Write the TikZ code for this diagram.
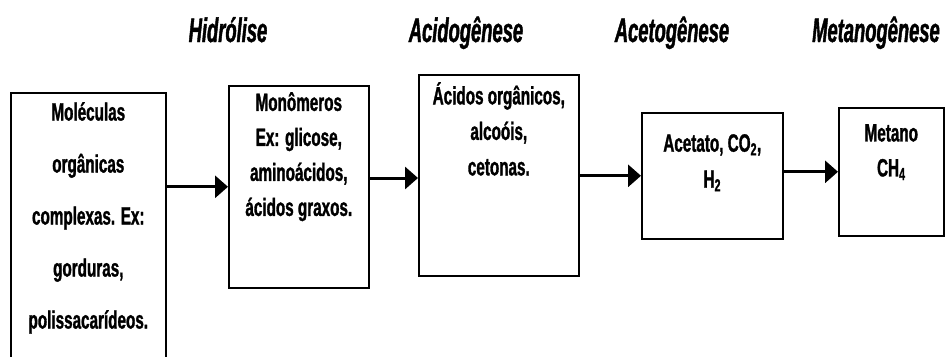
\documentclass[tikz,border=0pt]{standalone}
\usepackage{fontspec}
\setmainfont{Liberation Sans}[FakeStretch=0.61,BoldFeatures={FakeBold=1.2}]
\newfontfamily\etapafont{Liberation Sans}[FakeStretch=0.54,BoldItalicFeatures={FakeBold=1.2}]
\usetikzlibrary{arrows.meta,positioning}

\tikzset{
  caixa/.style={draw,line width=1.6pt,inner sep=0pt,anchor=north west},
  texto/.style={font=\bfseries\fontsize{25}{35}\selectfont,align=center,anchor=north,inner sep=0pt},
  etapa/.style={font=\etapafont\bfseries\itshape\fontsize{34}{38}\selectfont,inner sep=0pt,anchor=base},
  seta/.style={line width=3pt,-{Triangle[length=13pt,width=22pt]}},
}

\begin{document}
\begin{tikzpicture}[x=1pt,y=-1pt]
\clip (0,0) rectangle (947,356);

% etapas
\node[etapa] (hidrolise) at (228,42) {Hidrólise};
\node[etapa] (acidogenese) at (466,42) {Acidogênese};
\node[etapa] (acetogenese) at (672,42) {Acetogênese};
\node[etapa] (metanogenese) at (876,42) {Metanogênese};

% caixas
\node[caixa,minimum width=155pt,minimum height=272pt] (moleculas) at (10,92) {};
\node[caixa,minimum width=140pt,minimum height=202pt] (monomeros) at (228,85) {};
\node[caixa,minimum width=160pt,minimum height=201pt] (acidos) at (418,74) {};
\node[caixa,minimum width=141pt,minimum height=126pt] (acetato) at (641,112) {};
\node[caixa,minimum width=105pt,minimum height=128pt] (metano) at (838,107) {};

\node[texto,font=\bfseries\fontsize{25}{52}\selectfont,below=10pt of moleculas.north,anchor=north]
  (tmoleculas) {Moléculas\\orgânicas\\complexas. Ex:\\gorduras,\\polissacarídeos.};
\node[texto,below=7pt of monomeros.north,anchor=north]
  (tmonomeros) {Monômeros\\Ex: glicose,\\aminoácidos,\\ácidos graxos.};
\node[texto,font=\bfseries\fontsize{25}{35.5}\selectfont,below=8pt of acidos.north,anchor=north]
  (tacidos) {Ácidos orgânicos,\\alcoóis,\\cetonas.};
\node[texto,font=\bfseries\fontsize{25}{36}\selectfont,below=22pt of acetato.north,anchor=north]
  (tacetato) {Acetato, CO\textsubscript{2},\\H\textsubscript{2}};
\node[texto,below=17pt of metano.north,anchor=north]
  (tmetano) {Metano\\CH\textsubscript{4}};

% setas
\draw[seta] (moleculas.east |- monomeros.west) -- (monomeros.west);
\draw[seta] (monomeros.east |- 0,178) -- (acidos.west |- 0,178);
\draw[seta] (acidos.east |- acetato.west) -- (acetato.west);
\draw[seta] (acetato.east |- metano.west) -- (metano.west);
\end{tikzpicture}
\end{document}
